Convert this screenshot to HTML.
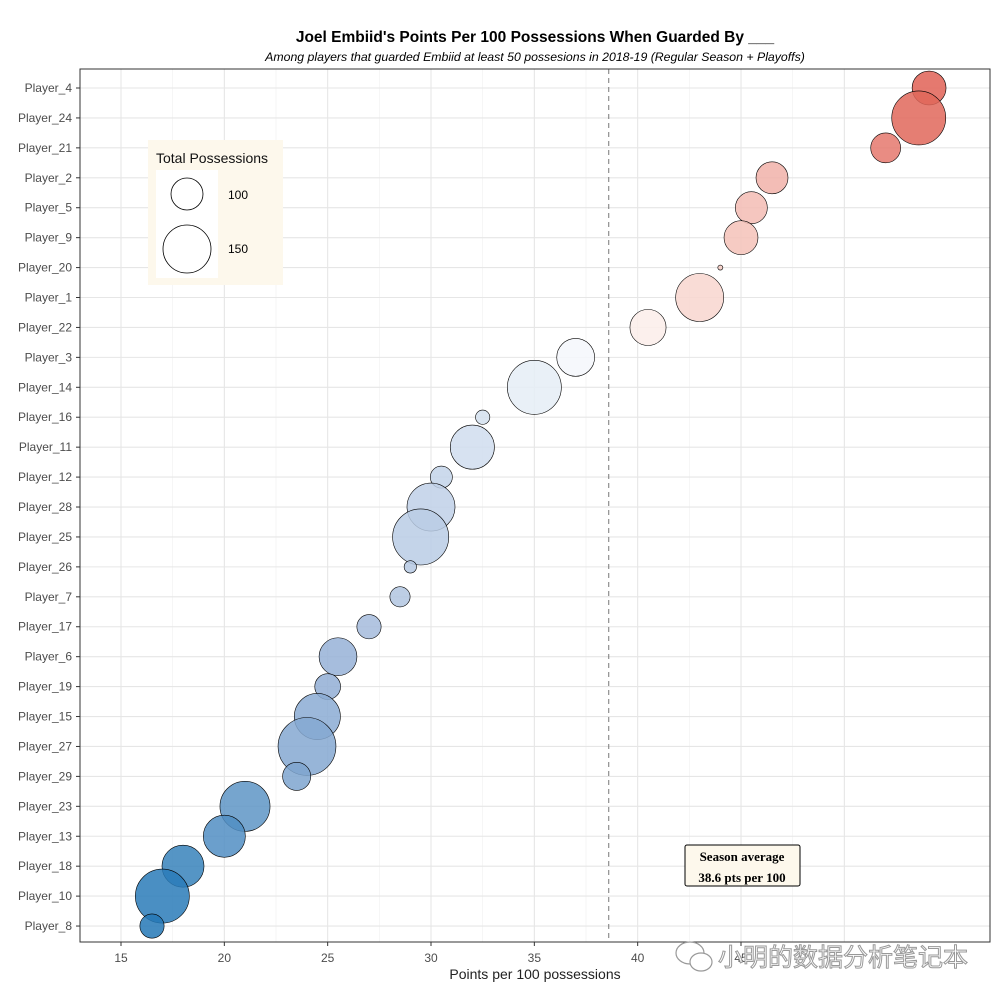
<!DOCTYPE html>
<html><head><meta charset="utf-8"><style>
body{margin:0;background:#fff;}
svg text{font-family:"Liberation Sans",sans-serif;}
</style></head><body>
<svg id="chart" width="1000" height="1000" xmlns="http://www.w3.org/2000/svg">
<rect width="1000" height="1000" fill="#fff"/>
<text x="535" y="42" text-anchor="middle" font-size="15.5" font-weight="bold">Joel Embiid's Points Per 100 Possessions When Guarded By ___</text>
<text x="535" y="61" text-anchor="middle" font-size="12.3" font-style="italic">Among players that guarded Embiid at least 50 possesions in 2018-19 (Regular Season + Playoffs)</text>
<g id="grid"></g>
<g id="marks"></g>
<rect x="80" y="69" width="910" height="873" fill="none" stroke="#333" stroke-width="1"/>
<g id="axes"></g>
<text x="535" y="979" text-anchor="middle" font-size="14" fill="#222">Points per 100 possessions</text>
<g>
<rect x="148" y="140" width="135" height="145" fill="#fdf8ec"/>
<text x="156" y="163" font-size="14" fill="#111">Total Possessions</text>
<rect x="156" y="170" width="62" height="108" fill="#fff"/>
<circle cx="187" cy="194" r="16" fill="none" stroke="#000" stroke-width="0.8"/>
<circle cx="187" cy="249" r="24" fill="none" stroke="#000" stroke-width="0.8"/>
<text x="228" y="199" font-size="12">100</text>
<text x="228" y="253" font-size="12">150</text>
</g>
<g>
<rect x="685" y="845" width="115" height="41" fill="#fdf8ec" stroke="#000" stroke-width="1" rx="2"/>
<text x="742" y="861" text-anchor="middle" font-size="13" font-weight="bold" style="font-family:'Liberation Serif',serif">Season average</text>
<text x="742" y="882" text-anchor="middle" font-size="13" font-weight="bold" style="font-family:'Liberation Serif',serif">38.6 pts per 100</text>
</g>
<text x="718" y="966" font-size="25" fill="#fff" stroke="#999" stroke-width="1" style="font-family:'Liberation Sans','Noto Sans CJK SC',sans-serif">小明的数据分析笔记本</text>
<g fill="#fff" stroke="#999" stroke-width="1.2"><ellipse cx="690" cy="953" rx="14" ry="11"/><ellipse cx="701" cy="962" rx="11" ry="9"/></g>
</svg>
<script>
const players=["Player_4","Player_24","Player_21","Player_2","Player_5","Player_9","Player_20","Player_1","Player_22","Player_3","Player_14","Player_16","Player_11","Player_12","Player_28","Player_25","Player_26","Player_7","Player_17","Player_6","Player_19","Player_15","Player_27","Player_29","Player_23","Player_13","Player_18","Player_10","Player_8"];
const pts=[54.1,53.6,52.0,46.5,45.5,45.0,44.0,43.0,40.5,37.0,35.0,32.5,32.0,30.5,30.0,29.5,29.0,28.5,27.0,25.5,25.0,24.5,24.0,23.5,21.0,20.0,18.0,17.0,16.5];
const possessions=[105,174,95,100,100,105,61,150,111,116,174,68,136,79,150,183,66,76,83,116,86,143,191,91,158,129,129,174,83];
const xTicks=[15,20,25,30,35,40,45];
const seasonAvg=38.6;
const NS="http://www.w3.org/2000/svg";
const X0=80,X1=990,Y0=69,Y1=942;
function xs(v){return 121+(v-15)*20.667;}
function ys(i){return 88+i*29.93;}
function rs(p){return Math.sqrt(Math.max(0,6.4*p-384));}
function mk(tag,attrs,parent){const e=document.createElementNS(NS,tag);for(const k in attrs)e.setAttribute(k,attrs[k]);parent.appendChild(e);return e;}
const blueStops=[[0,[255,255,255]],[0.3,[208,221,238]],[0.6,[150,176,214]],[1,[36,120,182]]];
const redStops=[[0,[255,255,255]],[0.3,[248,212,204]],[1,[224,98,86]]];
const minV=Math.min(...pts),maxV=Math.max(...pts);
function interp(stops,t){t=Math.max(0,Math.min(1,t));for(let k=1;k<stops.length;k++){if(t<=stops[k][0]){const a=stops[k-1],b=stops[k];const u=(t-a[0])/(b[0]-a[0]);return a[1].map((c,i)=>Math.round(c+(b[1][i]-c)*u));}}return stops[stops.length-1][1];}
function col(v){const c=v<seasonAvg?interp(blueStops,(seasonAvg-v)/(seasonAvg-minV)):interp(redStops,(v-seasonAvg)/(maxV-seasonAvg));return "rgb("+c.join(",")+")";}
const grid=document.getElementById('grid'),marks=document.getElementById('marks'),axes=document.getElementById('axes');
for(let v=12.5;v<=50;v+=2.5){const x=xs(v);if(x<X0||x>X1)continue;
const l=mk('line',{x1:x,x2:x,y1:Y0,y2:Y1,stroke:(v%5===0)?'#e6e6e6':'#f2f2f2','stroke-width':(v%5===0)?1.1:0.7},grid);
}
players.forEach((p,i)=>{const l=mk('line',{x1:X0,x2:X1,y1:ys(i),y2:ys(i),stroke:'#e6e6e6','stroke-width':1.1},grid);

const t=mk('text',{x:72,y:ys(i)+4,'text-anchor':'end','font-size':12,fill:'#4d4d4d'},axes);t.textContent=p;

const tk=mk('line',{x1:76,x2:80,y1:ys(i),y2:ys(i),stroke:'#333'},axes);
});
xTicks.forEach(v=>{const t=mk('text',{x:xs(v),y:962,'text-anchor':'middle','font-size':12,fill:'#4d4d4d'},axes);t.textContent=v;

const tk=mk('line',{x1:xs(v),x2:xs(v),y1:942,y2:946,stroke:'#333'},axes);
});
const vl=mk('line',{x1:xs(seasonAvg),x2:xs(seasonAvg),y1:Y0,y2:Y1,stroke:'#777','stroke-dasharray':'5,4','stroke-width':1},marks);

players.forEach((p,i)=>{const c=mk('circle',{cx:xs(pts[i]),cy:ys(i),r:rs(possessions[i]),fill:col(pts[i]),'fill-opacity':0.85,stroke:'#000','stroke-width':0.6},marks);

});
</script>
</body></html>
